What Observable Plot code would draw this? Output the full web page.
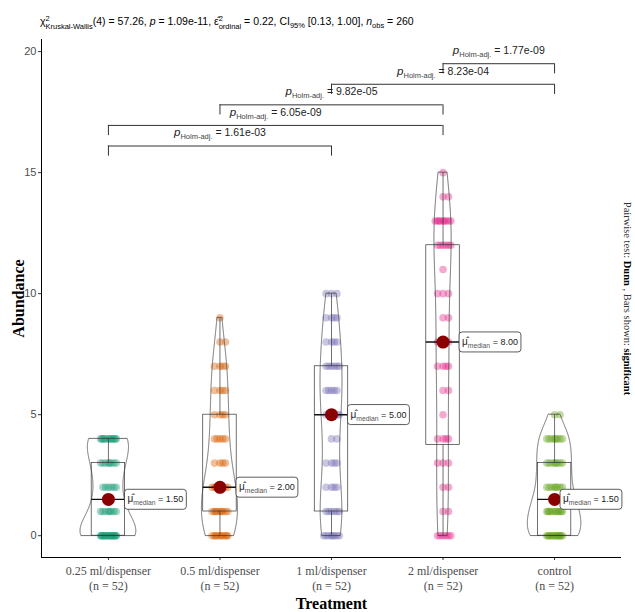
<!DOCTYPE html>
<html>
<head>
<meta charset="utf-8">
<script src="https://cdn.jsdelivr.net/npm/d3@7"></script>
<script src="https://cdn.jsdelivr.net/npm/@observablehq/plot@0.6"></script>
<style>
  body { margin: 0; background: #fff; }
  #title { height: 34px; box-sizing: border-box; padding: 15px 0 0 40px;
    font: 10.5px "Liberation Sans", Arial, sans-serif; color: #000; white-space: nowrap; }
  #title sub { font-size: 7.5px; vertical-align: -3px; line-height: 0; }
  .stk { display: inline-block; vertical-align: -4px; line-height: 8px; font-size: 7.5px; }
  .stk span { display: block; }
  #chart svg { display: block; }
</style>
</head>
<body>
<div id="title">χ<span class="stk"><span>2</span><span>Kruskal-Wallis</span></span>(4) = 57.26, <i>p</i> = 1.09e-11, ε̂<span class="stk"><span>2</span><span>ordinal</span></span> = 0.22, CI<sub>95%</sub> [0.13, 1.00], <i>n</i><sub>obs</sub> = 260</div>
<div id="chart"></div>
<script>
// ---------------- data ----------------
const treatments = ["0.25 ml/dispenser", "0.5 ml/dispenser", "1 ml/dispenser", "2 ml/dispenser", "control"];
const colors = ["#1B9E77", "#D95F02", "#7570B3", "#E7298A", "#66A61E"];

const abundance025 = [0,0,0,0,0,0,0,0,0,0,0,0,0,0,0,0,0,0, 1,1,1,1,1,1,1,1, 2,2,2,2,2,2, 3,3,3,3,3,3,3,3, 4,4,4,4,4,4,4,4,4,4,4,4];
const abundance05  = [0,0,0,0,0,0,0,0,0,0, 1,1,1,1,1,1,1,1,1, 2,2,2,2,2,2,2,2,2, 3,3,3,3, 4,4,4,4,4, 5,5,5,5, 6,6,6,6, 7,7,7,7, 8,8, 9];
const abundance1   = [0,0,0,0,0,0,0,0, 1,1,1,1,1,1, 2,2,2,2, 3,3,3,3, 4,4, 5,5,5,5,5,5, 6,6,6,6,6, 7,7,7,7,7,7, 8,8,8,8, 9,9,9,9, 10,10,10];
const abundance2   = [0,0,0,0,0,0, 1,1, 2,2, 3,3,3, 4,4,4,4, 5, 6,6, 7,7,7,7, 8,8,8,8, 9,9, 10,10,10, 11, 12,12,12,12,12,12, 13,13,13,13,13,13,13,13,13, 14,14, 15];
const abundanceCtl = [0,0,0,0,0,0,0,0,0,0,0,0,0,0, 1,1,1,1,1,1,1,1,1,1,1,1, 2,2,2,2,2,2,2,2, 3,3,3,3,3,3,3,3, 4,4,4,4,4,4,4,4, 5,5];
const groupValues = [abundance025, abundance05, abundance1, abundance2, abundanceCtl];

// pairwise Dunn test (Holm-adjusted), significant pairs
const pairFrom = ["0.25 ml/dispenser", "0.25 ml/dispenser", "0.5 ml/dispenser", "1 ml/dispenser", "2 ml/dispenser"];
const pairTo   = ["1 ml/dispenser", "2 ml/dispenser", "2 ml/dispenser", "control", "control"];
const pairP    = ["1.61e-03", "6.05e-09", "9.82e-05", "8.23e-04", "1.77e-09"];

const captionText = "Pairwise test: Dunn , Bars shown: significant";

// ---------------- layout constants ----------------
const X_DOMAIN = [0.4, 5.6];
const Y_DOMAIN = [-0.9, 20.5];
const BRACKET_BASE = 16.1, BRACKET_STEP = 0.85, TIP = 0.42;
const BOX_HALF = 0.15, VIOLIN_HALF = 0.25, JITTER = 0.07;
const LABEL_NUDGE = [0.135, 0.135, 0.135, 0.135, 0.04];   // label repelled left at the panel edge
const JIT = [0, 0.7, -0.7, 0.35, -0.35, 1, -1, 0.15, -0.55, 0.85, -0.85, 0.5, -0.15, 0.6, -0.45, 0.25, -0.9, 0.95];

// ---------------- derived tables ----------------
const points = [];
groupValues.forEach((vals, i) => {
  const seen = new Map();
  vals.forEach(v => {
    const k = seen.get(v) || 0; seen.set(v, k + 1);
    points.push({g: i + 1, v, x: i + 1 + JIT[k % JIT.length] * JITTER});
  });
});

const stats = groupValues.map((vals, i) => {
  const s = vals.slice().sort(d3.ascending);
  const q1 = d3.quantile(s, 0.25), med = d3.quantile(s, 0.5), q3 = d3.quantile(s, 0.75);
  const iqr = q3 - q1;
  const lo = d3.min(s.filter(v => v >= q1 - 1.5 * iqr));
  const hi = d3.max(s.filter(v => v <= q3 + 1.5 * iqr));
  return {g: i + 1, q1, med, q3, lo, hi, lab: i + 1 + LABEL_NUDGE[i]};
});

function bwNrd0(x) {
  const s = x.slice().sort(d3.ascending);
  const hi = d3.deviation(s);
  const iqr = d3.quantile(s, 0.75) - d3.quantile(s, 0.25);
  let lo = Math.min(hi, iqr / 1.34);
  if (!(lo > 0)) lo = hi || 1;
  return 0.9 * lo * Math.pow(x.length, -0.2);
}
const violin = [];
groupValues.forEach((vals, i) => {
  const bw = bwNrd0(vals);
  const lo = d3.min(vals), hi = d3.max(vals);
  for (let k = 0; k < 512; k++) {
    const y = lo + (hi - lo) * k / 511;
    let s = 0;
    for (const xi of vals) s += Math.exp(-0.5 * ((y - xi) / bw) ** 2);
    violin.push({g: i + 1, y, dens: s / (vals.length * bw * Math.sqrt(2 * Math.PI))});
  }
});
const maxDens = d3.max(violin, d => d.dens);

const brackets = pairFrom.map((f, i) => ({
  x1: treatments.indexOf(f) + 1,
  x2: treatments.indexOf(pairTo[i]) + 1,
  p: pairP[i],
  y: BRACKET_BASE + i * BRACKET_STEP
}));
const tips = brackets.flatMap(b => [{x: b.x1, y: b.y}, {x: b.x2, y: b.y}]);

const serif = "'Liberation Serif', 'Times New Roman', serif";

// ---------------- plot ----------------
const svg = Plot.plot({
  width: 635, height: 578,
  marginLeft: 41, marginRight: 14, marginTop: 5, marginBottom: 55,
  x: {type: "linear", domain: X_DOMAIN, axis: null},
  y: {domain: Y_DOMAIN, axis: null},
  style: {background: "#fff", fontFamily: "'Liberation Sans', Arial, sans-serif", fontSize: "11px"},
  marks: [
    Plot.axisY({ticks: [0, 5, 10, 15, 20], tickSize: 3, tickPadding: 2, stroke: "#333", fill: "#4D4D4D", fontSize: 11, label: null}),
    Plot.axisX({ticks: [1, 2, 3, 4, 5], tickSize: 3, tickPadding: 4, stroke: "#333", fill: "#4D4D4D", fontSize: 12,
      fontFamily: serif, lineHeight: 1.25, label: null,
      tickFormat: d => `${treatments[d - 1]}\n(n = ${groupValues[d - 1].length})`}),
    Plot.ruleX([X_DOMAIN[0]], {stroke: "#000", strokeWidth: 1}),
    Plot.ruleY([Y_DOMAIN[0]], {stroke: "#000", strokeWidth: 1}),
    // jittered points
    Plot.dot(points, {x: "x", y: "v", r: 3.8, fill: d => colors[d.g - 1], fillOpacity: 0.4, stroke: "none"}),
    // boxplots
    Plot.rect(stats, {x1: d => d.g - BOX_HALF, x2: d => d.g + BOX_HALF, y1: "q1", y2: "q3", fill: "none", stroke: "#333", strokeWidth: 0.7}),
    Plot.ruleX(stats, {x: "g", y1: "q3", y2: "hi", stroke: "#333", strokeWidth: 0.7}),
    Plot.ruleX(stats, {x: "g", y1: "lo", y2: "q1", stroke: "#333", strokeWidth: 0.7}),
    // violins
    Plot.areaX(violin, {y: "y", x1: d => d.g - VIOLIN_HALF * d.dens / maxDens, x2: d => d.g + VIOLIN_HALF * d.dens / maxDens,
      z: "g", fill: "none", stroke: "#333", strokeWidth: 0.7}),
    // median line + label connector
    Plot.ruleY(stats, {y: "med", x1: d => d.g - BOX_HALF, x2: d => Math.max(d.lab, d.g + BOX_HALF), stroke: "#111", strokeWidth: 1.4}),
    Plot.dot(stats, {x: "g", y: "med", r: 6.5, fill: "#8B0000", stroke: "none"}),
    Plot.text(stats, {x: "lab", y: "med", dx: 4, textAnchor: "start", fontSize: 9, fill: "#222",
      text: d => `μ̂median = ${d.med.toFixed(2)}`}),
    // significance brackets
    Plot.ruleY(brackets, {y: "y", x1: "x1", x2: "x2", stroke: "#333", strokeWidth: 1}),
    Plot.ruleX(tips, {x: "x", y1: d => d.y - TIP, y2: "y", stroke: "#333", strokeWidth: 1}),
    Plot.text(brackets, {x: d => (d.x1 + d.x2) / 2, y: "y", dy: -13, fontSize: 10.5, fill: "#222",
      text: d => `pHolm-adj. = ${d.p}`}),
    // axis titles and caption
    Plot.text(["Abundance"], {frameAnchor: "left", rotate: -90, dx: -23, textAnchor: "middle", lineAnchor: "middle",
      fontSize: 16, fontWeight: "bold", fontFamily: serif, fill: "#000"}),
    Plot.text(["Treatment"], {frameAnchor: "bottom", dy: 46, textAnchor: "middle", lineAnchor: "middle",
      fontSize: 16, fontWeight: "bold", fontFamily: serif, fill: "#000"}),
    Plot.text([captionText], {frameAnchor: "right", rotate: 90, dx: 6, textAnchor: "middle", lineAnchor: "middle",
      fontSize: 10.5, fontFamily: serif, fill: "#333"})
  ]
});
document.getElementById("chart").append(svg);

// ---------------- rich text (sub/superscripts, bold, italics) ----------------
function richify(el, segs) {
  const sel = d3.select(el);
  sel.text(null);
  let shift = 0;
  for (const s of segs) {
    const t = sel.append("tspan").text(s.t);
    if (s.italic) t.attr("font-style", "italic");
    if (s.bold) t.attr("font-weight", "bold").attr("fill", "#000");
    if (s.size) t.attr("font-size", s.size);
    if (s.fill) t.attr("fill", s.fill);
    const target = s.sub ? 3 : 0;
    if (target !== shift) { t.attr("dy", target - shift); shift = target; }
  }
}
d3.select(svg).selectAll("text").each(function () {
  const s = this.textContent;
  let m;
  if ((m = s.match(/^μ̂median = (.*)$/))) {
    richify(this, [{t: "μ̂", size: 10}, {t: "median", sub: true, size: 6.8, fill: "#555"}, {t: " = " + m[1]}]);
    const b = this.getBBox();
    const r = d3.select(this.parentNode).insert("rect", () => this)
      .attr("x", b.x - 3).attr("y", b.y - 4).attr("width", b.width + 6).attr("height", b.height + 7)
      .attr("rx", 3).attr("fill", "#fff").attr("stroke", "#333").attr("stroke-width", 0.8);
    if (this.getAttribute("transform")) r.attr("transform", this.getAttribute("transform"));
  } else if ((m = s.match(/^pHolm-adj\. = (.*)$/))) {
    richify(this, [{t: "p", italic: true, size: 11.5}, {t: "Holm-adj.", sub: true, size: 7.5, fill: "#444"}, {t: " = " + m[1]}]);
  } else if (s === captionText) {
    richify(this, [{t: "Pairwise test: "}, {t: "Dunn", bold: true}, {t: " , Bars shown: "}, {t: "significant", bold: true}]);
  }
});
</script>
</body>
</html>
